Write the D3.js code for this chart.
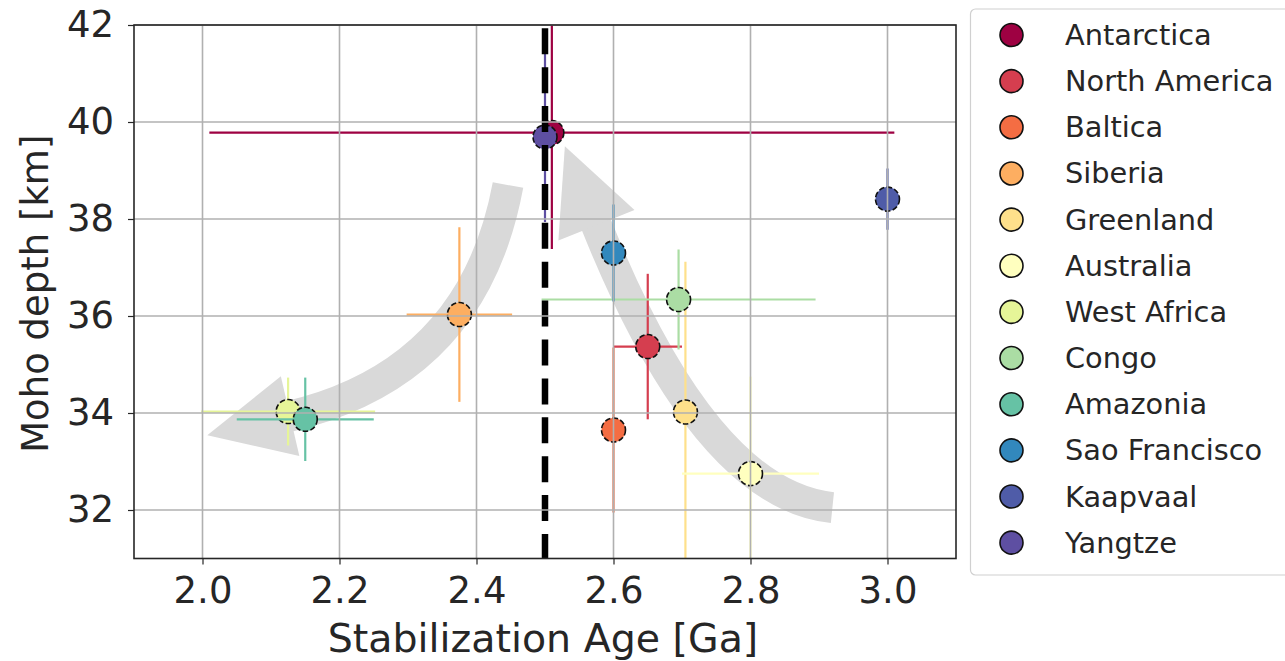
<!DOCTYPE html>
<html><head><meta charset="utf-8">
<script src="https://d3js.org/d3.v7.min.js"></script>
<style>body{margin:0;background:#fff}svg{display:block}text{font-family:"DejaVu Sans",sans-serif;fill:#262626}</style>
</head><body>
<svg id="c" width="1285" height="661"></svg>
<script>
// ---- data ----
const cratons   = ["Antarctica","North America","Baltica","Siberia","Greenland","Australia","West Africa","Congo","Amazonia","Sao Francisco","Kaapvaal","Yangtze"];
const ages      = [2.51, 2.65, 2.60, 2.375, 2.705, 2.80, 2.125, 2.695, 2.15, 2.60, 3.00, 2.50];
const ageErr    = [0.50, 0.05, 0.00, 0.077, 0.00, 0.10, 0.127, 0.20, 0.10, 0.00, 0.00, 0.00];
const depths    = [39.78, 35.37, 33.65, 36.03, 34.02, 32.75, 34.03, 36.34, 33.87, 37.30, 38.41, 39.69];
const depthErr  = [2.40, 1.50, 1.70, 1.80, 3.10, 2.00, 0.70, 1.03, 0.86, 1.00, 0.63, 1.75];
const colors    = ["#9e0142","#d53e4f","#f46d43","#fdae61","#fee08b","#ffffbf","#e6f598","#abdda4","#66c2a5","#3288bd","#4f5ca8","#5e4fa2"];
const xTicks    = [2.0, 2.2, 2.4, 2.6, 2.8, 3.0];
const yTicks    = [32, 34, 36, 38, 40, 42];
const xDomain   = [1.9, 3.1];
const yDomain   = [31, 42];
const refAge    = 2.5;
// decorative trend arrows (data units): tail, control, tip
const arrowTails = [[2.446, 38.70], [2.9196, 32.05]];
const arrowCtrls = [[2.395, 34.81], [2.7325, 32.32]];
const arrowTips  = [[2.007, 33.54], [2.529, 39.50]];
const xLabel = "Stabilization Age [Ga]";
const yLabel = "Moho depth [km]";

// ---- layout ----
const L = 134, R = 956, T = 25, B = 558.5;
const svg = d3.select("#c");
const x = d3.scaleLinear().domain(xDomain).range([L, R]);
const y = d3.scaleLinear().domain(yDomain).range([B, T]);

svg.append("defs").append("clipPath").attr("id","clip")
  .append("rect").attr("x",L).attr("y",T).attr("width",R-L).attr("height",B-T);
const plot = svg.append("g").attr("clip-path","url(#clip)");

// arrows
const arrowG = plot.append("g");
arrowTails.forEach((t,i) => {
  const p0 = [x(t[0]), y(t[1])];
  const c  = [x(arrowCtrls[i][0]), y(arrowCtrls[i][1])];
  const tip= [x(arrowTips[i][0]), y(arrowTips[i][1])];
  const dx = tip[0]-c[0], dy = tip[1]-c[1], n = Math.hypot(dx,dy);
  const ux = dx/n, uy = dy/n, headL = 85, headW = 82, bandW = 31;
  const base = [tip[0]-headL*ux, tip[1]-headL*uy];
  const path = d3.path(); path.moveTo(p0[0],p0[1]); path.quadraticCurveTo(c[0],c[1],base[0]+ux*2,base[1]+uy*2);
  arrowG.append("path").attr("d",path.toString()).attr("fill","none")
    .attr("stroke","#d9d9d9").attr("stroke-width",bandW).attr("stroke-linecap","butt");
  const px = -uy, py = ux;
  arrowG.append("path").attr("fill","#d9d9d9")
    .attr("d", `M${tip[0]},${tip[1]}L${base[0]+px*headW/2},${base[1]+py*headW/2}L${base[0]-px*headW/2},${base[1]-py*headW/2}Z`);
});

// grid
const grid = svg.append("g");
xTicks.forEach(v => grid.append("line").attr("x1",x(v)).attr("x2",x(v)).attr("y1",T).attr("y2",B).attr("stroke","#b0b0b0").attr("stroke-width",1.6));
yTicks.forEach(v => grid.append("line").attr("x1",L).attr("x2",R).attr("y1",y(v)).attr("y2",y(v)).attr("stroke","#b0b0b0").attr("stroke-width",1.6));

// error bars + markers
cratons.forEach((name,i) => {
  const g = plot.append("g");
  if (depthErr[i] > 0) g.append("line").attr("x1",x(ages[i])).attr("x2",x(ages[i]))
     .attr("y1",y(depths[i]-depthErr[i])).attr("y2",y(depths[i]+depthErr[i]))
     .attr("stroke",colors[i]).attr("stroke-width",2.2);
  if (ageErr[i] > 0) g.append("line").attr("y1",y(depths[i])).attr("y2",y(depths[i]))
     .attr("x1",x(ages[i]-ageErr[i])).attr("x2",x(ages[i]+ageErr[i]))
     .attr("stroke",colors[i]).attr("stroke-width",2.2);
  g.append("circle").attr("cx",x(ages[i])).attr("cy",y(depths[i])).attr("r",12)
     .attr("fill",colors[i]).attr("stroke","#111").attr("stroke-width",1.6)
     .attr("stroke-dasharray","5.5,2.4");
});

// reference dashed line
plot.append("line").attr("x1",x(refAge)).attr("x2",x(refAge)).attr("y1",B).attr("y2",T)
  .attr("stroke","#000").attr("stroke-width",6.5).attr("stroke-dasharray","26,12.9").attr("stroke-dashoffset",1.5);

// axes
const fs = 37;
const xa = svg.append("g").attr("transform",`translate(0,${B})`)
  .call(d3.axisBottom(x).tickValues(xTicks).tickFormat(d3.format(".1f")).tickSize(6).tickSizeOuter(0).tickPadding(12));
const ya = svg.append("g").attr("transform",`translate(${L},0)`)
  .call(d3.axisLeft(y).tickValues(yTicks).tickFormat(d3.format("d")).tickSize(6).tickSizeOuter(0).tickPadding(14));
[xa,ya].forEach(a => { a.select(".domain").remove(); a.selectAll("text").attr("font-size",fs).attr("font-family","DejaVu Sans").attr("fill","#262626");
  a.selectAll(".tick line").attr("stroke","#262626").attr("stroke-width",1.2); });
svg.append("rect").attr("x",L).attr("y",T).attr("width",R-L).attr("height",B-T)
  .attr("fill","none").attr("stroke","#262626").attr("stroke-width",1.6);

svg.append("text").attr("x",(L+R)/2 - 2).attr("y",652).attr("text-anchor","middle").attr("font-size",39.5).text(xLabel);
svg.append("text").attr("transform",`translate(35,${(T+B)/2 + 2}) rotate(-90)`).attr("text-anchor","middle")
  .attr("dominant-baseline","central").attr("font-size",fs).text(yLabel);

// legend
const lg = svg.append("g");
lg.append("rect").attr("x",970.5).attr("y",9).attr("width",330).attr("height",566).attr("rx",5)
  .attr("fill","#fff").attr("stroke","#d0d0d0").attr("stroke-width",1.2);
cratons.forEach((name,i) => {
  const cy = 35 + i*46.15;
  lg.append("circle").attr("cx",1011.5).attr("cy",cy).attr("r",11.5).attr("fill",colors[i]).attr("stroke","#111").attr("stroke-width",1.6);
  lg.append("text").attr("x",1065).attr("y",cy).attr("dominant-baseline","central").attr("font-size",28.8).text(name);
});
</script>
</body></html>
